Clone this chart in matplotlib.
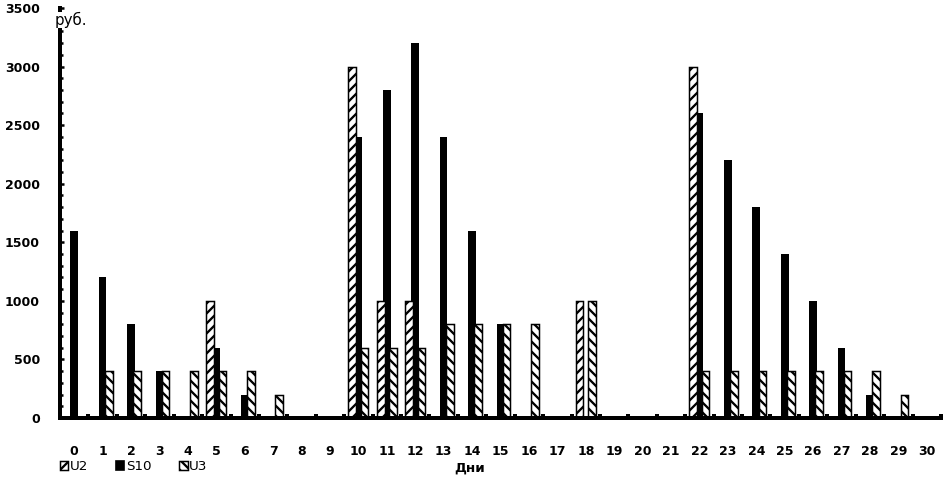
import numpy as np
import matplotlib
matplotlib.use("Agg")
import matplotlib.pyplot as plt
from matplotlib.patches import Patch
from matplotlib.ticker import MultipleLocator, FixedLocator

days = list(range(31))
u2 = [0, 0, 0, 0, 0, 1000, 0, 0, 0, 0, 3000, 1000, 1000, 0, 0, 0, 0, 0, 1000, 0, 0, 0, 3000, 0, 0, 0, 0, 0, 0, 0, 0]
s10 = [1600, 1200, 800, 400, 0, 600, 200, 0, 0, 0, 2400, 2800, 3200, 2400, 1600, 800, 0, 0, 0, 0, 0, 0, 2600, 2200, 1800, 1400, 1000, 600, 200, 0, 0]
u3 = [0, 400, 400, 400, 400, 400, 400, 200, 0, 0, 600, 600, 600, 800, 800, 800, 800, 0, 1000, 0, 0, 0, 400, 400, 400, 400, 400, 400, 400, 200, 0]
series_names = ["U2", "S10", "U3"]
y_label = "руб."
x_label = "Дни"

dpi = 120
W, H = 944, 478
px = 72.0 / dpi  # points per pixel
plt.rcParams['hatch.linewidth'] = 2.3 * px
plt.rcParams['font.family'] = ['DejaVu Sans']

fig = plt.figure(figsize=(W / dpi, H / dpi), dpi=dpi)
ax = fig.add_axes([60 / W, 1 - 418 / H, (941 - 60) / W, (418 - 8) / H])

x = np.arange(len(days))
bw = 0.27
off = 0.215
ax.bar(x, s10, width=bw, color='black', zorder=2)
ax.bar(x - off, u2, width=bw, facecolor='white', edgecolor='black', hatch='////', linewidth=1.5 * px, zorder=3)
ax.bar(x + off, u3, width=bw, facecolor='white', edgecolor='black', hatch='\\\\\\\\', linewidth=1.5 * px, zorder=3)

ax.set_xlim(-0.5, len(days) - 0.5)
ax.set_ylim(0, 3500)

for s in ['top', 'right']:
    ax.spines[s].set_visible(False)
for s in ['left', 'bottom']:
    ax.spines[s].set_linewidth(4 * px)
    ax.spines[s].set_zorder(5)

ax.set_xticks(x)
ax.set_xticklabels([str(d) for d in days])
ax.xaxis.set_minor_locator(FixedLocator(np.arange(0.5, len(days), 1.0)))
ax.tick_params(axis='x', which='major', length=0, pad=27 * px, labelsize=12.5 * px)
ax.tick_params(axis='x', which='minor', direction='in', length=4 * px, width=4 * px)
ax.yaxis.set_major_locator(MultipleLocator(500))
ax.yaxis.set_minor_locator(MultipleLocator(100))
ax.tick_params(axis='y', which='major', direction='in', length=4 * px, width=2.5 * px, pad=20 * px, labelsize=12.5 * px)
ax.tick_params(axis='y', which='minor', direction='in', length=3 * px, width=2.5 * px)
for lab in ax.get_xticklabels() + ax.get_yticklabels():
    lab.set_fontweight('bold')

fig.text(55 / W, 1 - 20 / H, y_label, ha='left', va='center', fontsize=15 * px,
         bbox=dict(fc='white', ec='none', pad=0), zorder=10)
fig.text(470 / W, 1 - 468 / H, x_label, ha='center', va='center', fontsize=13.5 * px, fontweight='bold')

handles = [
    Patch(facecolor='white', edgecolor='black', hatch='////', linewidth=1.5 * px, label=series_names[0]),
    Patch(facecolor='black', edgecolor='black', label=series_names[1]),
    Patch(facecolor='white', edgecolor='black', hatch='\\\\\\\\', linewidth=1.5 * px, label=series_names[2]),
]
fig.legend(handles=handles, loc='center left', bbox_to_anchor=(60 / W, 1 - 467 / H), ncol=3,
           frameon=False, handlelength=0.6, handleheight=0.6, handletextpad=0.1,
           columnspacing=2.1, borderpad=0, borderaxespad=0, fontsize=13.5 * px)

fig.savefig("out.png", dpi=dpi)
